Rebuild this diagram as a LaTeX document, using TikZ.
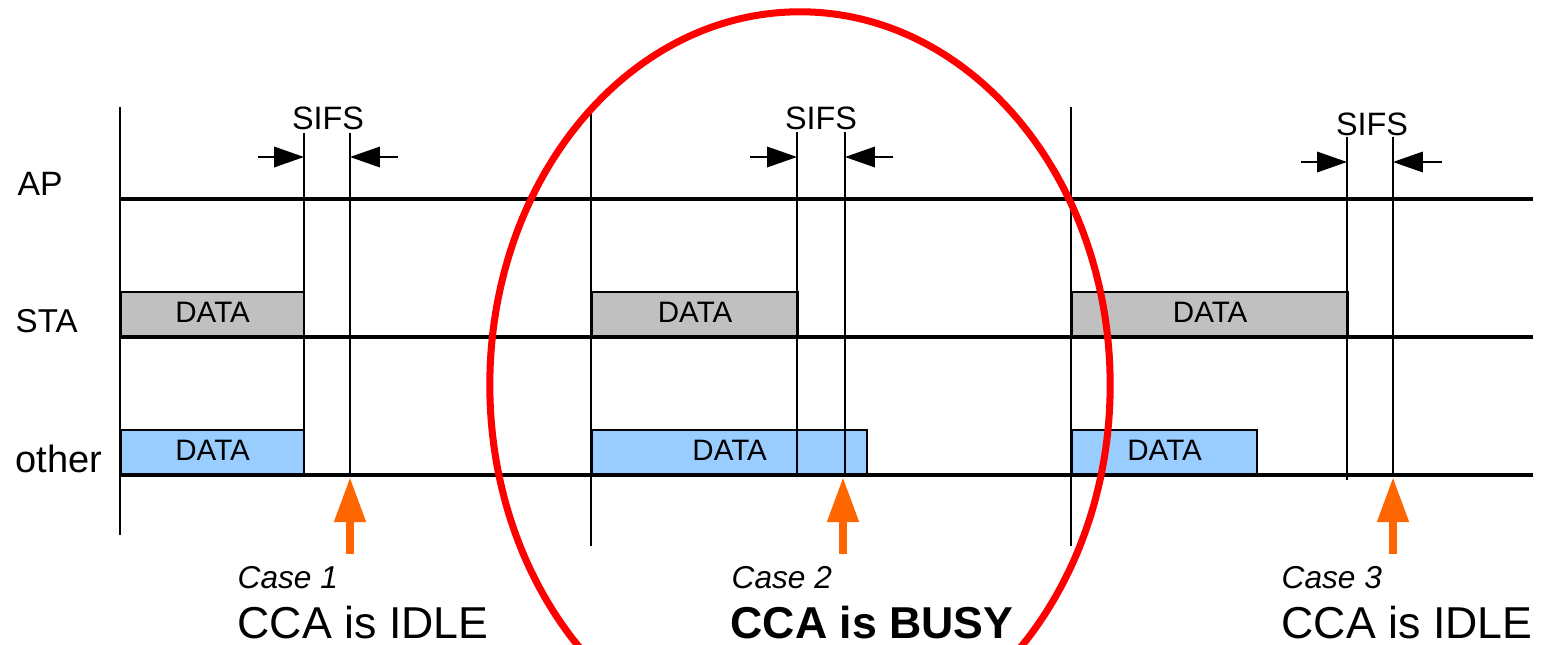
\documentclass[tikz,border=0pt]{standalone}
\usepackage{fontspec}
\setmainfont{Liberation Sans}
\usetikzlibrary{arrows.meta}

\definecolor{stagray}{RGB}{192,192,192}
\definecolor{otherblue}{RGB}{153,204,255}
\definecolor{ccaorange}{RGB}{255,102,0}

\begin{document}
\begin{tikzpicture}[x=0.01cm,y=-0.01cm,
  tline/.style={line width=1.1pt},
  vline/.style={line width=0.6pt},
  databox/.style={draw,line width=0.6pt,minimum height=0.44cm,inner sep=0pt,
    anchor=south west,font=\fontsize{8.4}{9}\selectfont,text depth=1pt},
  stabox/.style={databox,fill=stagray},
  otherbox/.style={databox,fill=otherblue},
  sifsarrow/.style={line width=0.6pt,-{Triangle[length=8.5pt,width=5.8pt]}},
  ccaarrow/.style={draw=ccaorange,line width=2.3pt,-{Triangle[length=12.8pt,width=8.5pt]}},
  lbl/.style={anchor=base west,inner sep=0pt},
]
\clip (0,0) rectangle (1541,645);

% sorok nevei
\node[lbl,font=\fontsize{9.6}{10}\selectfont] (ap) at (17,195) {AP};
\node[lbl,font=\fontsize{9.4}{10}\selectfont] (sta) at (15,332) {STA};
\node[lbl,font=\fontsize{10.8}{11}\selectfont] (other) at (15,472) {other};

% adatkeretek
\node[stabox,minimum width=1.83cm] (staA) at (120,337) {DATA};
\node[otherbox,minimum width=1.83cm] (otherA) at (120,475) {DATA};
\node[stabox,minimum width=2.06cm] (staB) at (591,337) {DATA};
\node[otherbox,minimum width=2.75cm] (otherB) at (591,475) {DATA};
\node[stabox,minimum width=2.76cm] (staC) at (1071,337) {DATA};
\node[otherbox,minimum width=1.85cm] (otherC) at (1071,475) {DATA};

% idovonalak
\draw[tline] (120,199) -- (1533,199);
\draw[tline] (120,337) -- (1533,337);
\draw[tline] (120,475) -- (1533,475);

% fuggoleges vonalak
\draw[vline] (120,107) -- (120,535);
\draw[vline] (591,107) -- (591,546);
\draw[vline] (1071,107) -- (1071,546);

% SIFS jelolesek
\draw[vline] (304,133) -- (304,475);
\draw[vline] (350,133) -- (350,475);
\draw[vline] (797,132) -- (797,475);
\draw[vline] (845,132) -- (845,475);
\draw[vline] (1347,137) -- (1347,480);
\draw[vline] (1393,137) -- (1393,475);

\node[anchor=base,inner sep=0pt,font=\fontsize{9.2}{10}\selectfont] (sifsA) at (328,129) {SIFS};
\node[anchor=base,inner sep=0pt,font=\fontsize{9.2}{10}\selectfont] (sifsB) at (821,129) {SIFS};
\node[anchor=base,inner sep=0pt,font=\fontsize{9.2}{10}\selectfont] (sifsC) at (1372,135) {SIFS};

\coordinate (sAl) at (258,157);  \coordinate (sAl') at (304,157);
\coordinate (sAr) at (398,157);  \coordinate (sAr') at (350,157);
\coordinate (sBl) at (750,157);  \coordinate (sBl') at (797,157);
\coordinate (sBr) at (893,157);  \coordinate (sBr') at (845,157);
\coordinate (sCl) at (1301,162); \coordinate (sCl') at (1347,162);
\coordinate (sCr) at (1442,162); \coordinate (sCr') at (1393,162);
\draw[sifsarrow] (sAl) -- (sAl');
\draw[sifsarrow] (sAr) -- (sAr');
\draw[sifsarrow] (sBl) -- (sBl');
\draw[sifsarrow] (sBr) -- (sBr');
\draw[sifsarrow] (sCl) -- (sCl');
\draw[sifsarrow] (sCr) -- (sCr');

% CCA nyilak
\coordinate (cA) at (350,554); \coordinate (cA') at (350,477);
\coordinate (cB) at (843,554); \coordinate (cB') at (843,477);
\coordinate (cC) at (1393,554); \coordinate (cC') at (1393,477);
\draw[ccaarrow] (cA) -- (cA');
\draw[ccaarrow] (cB) -- (cB');
\draw[ccaarrow] (cC) -- (cC');

% esetek
\node[lbl,font=\fontsize{9}{10}\selectfont\itshape] (caseA) at (237,588) {Case 1};
\node[lbl,font=\fontsize{12.7}{14}\selectfont] (ccaA) at (237,638) {CCA is IDLE};
\node[lbl,font=\fontsize{9}{10}\selectfont\itshape] (caseB) at (731,588) {Case 2};
\node[lbl,font=\fontsize{12.7}{14}\selectfont\bfseries] (ccaB) at (730,638) {CCA is BUSY};
\node[lbl,font=\fontsize{9}{10}\selectfont\itshape] (caseC) at (1281,588) {Case 3};
\node[lbl,font=\fontsize{12.7}{14}\selectfont] (ccaC) at (1281,638) {CCA is IDLE};

% piros kiemeles
\draw[red,line width=2pt] (800,385) ellipse [x radius=3.1cm,y radius=3.73cm];

\end{tikzpicture}
\end{document}
